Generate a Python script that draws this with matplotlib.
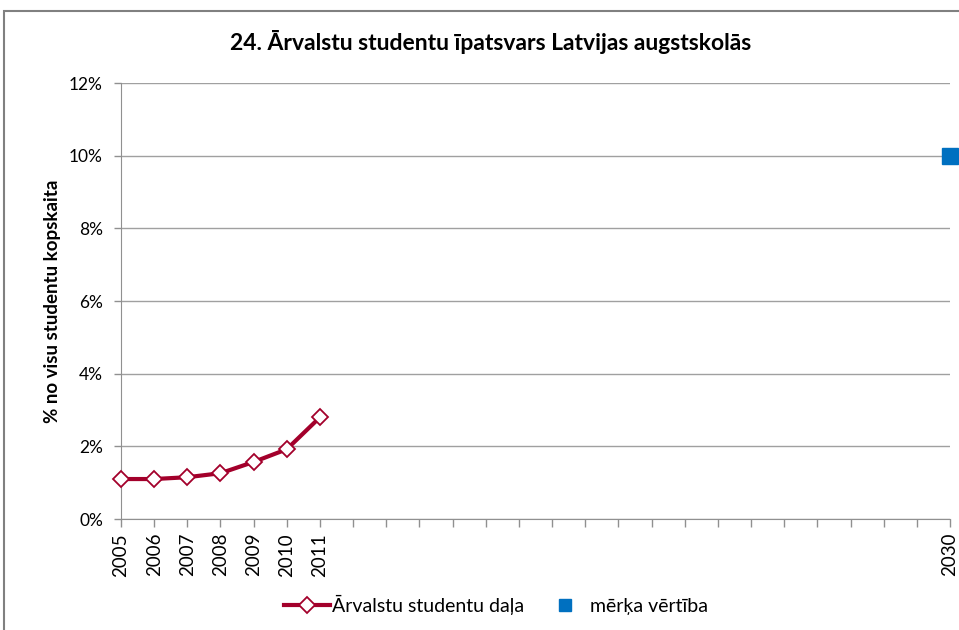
import matplotlib
matplotlib.use("Agg")
import matplotlib.pyplot as plt
from matplotlib.patches import Rectangle
from matplotlib.lines import Line2D

plt.rcParams['font.family'] = ['Lato', 'DejaVu Sans']

years = list(range(2005, 2031))
hist_years = [2005, 2006, 2007, 2008, 2009, 2010, 2011]
hist_values = [1.10, 1.10, 1.15, 1.26, 1.57, 1.92, 2.80]
target_years = [2030]
target_values = [10.0]
labeled_years = [2005, 2006, 2007, 2008, 2009, 2010, 2011, 2030]
yticks = [0, 2, 4, 6, 8, 10, 12]

title = "24. Ārvalstu studentu īpatsvars Latvijas augstskolās"
ylabel = "% no visu studentu kopskaita"
series1 = "Ārvalstu studentu daļa"
series2 = "mērķa vērtība"

fig = plt.figure(figsize=(9.59, 6.3), dpi=100)
fig.patch.set_facecolor('white')
fig.add_artist(Rectangle((4/959, -0.1), 1.2, 1 - 11/630 + 0.1, transform=fig.transFigure,
                         fill=False, edgecolor='#808080', linewidth=1.5))

ax = fig.add_axes([121/959, 1 - 519/630, (950 - 121)/959, (519 - 83)/630])
ax.set_xlim(2005, 2030)
ax.set_ylim(0, 12)

red = '#A3002B'
ax.plot(hist_years, hist_values, color=red, linewidth=3, marker='D', markersize=8.5,
        markerfacecolor='white', markeredgecolor=red, markeredgewidth=1.3, zorder=3,
        clip_on=False)
ax.plot(target_years, target_values, linestyle='none', marker='s', markersize=11,
        color='#0070C0', zorder=4, clip_on=False)

ax.set_yticks(yticks)
ax.set_yticklabels([f"{v}%" for v in yticks], fontsize=12.5)
ax.yaxis.grid(True, color='#A0A0A0', linewidth=1)
ax.set_axisbelow(True)

ax.set_xticks(years)
ax.set_xticklabels([str(y) if y in labeled_years else "" for y in years],
                   rotation=90, fontsize=13.5)
ax.tick_params(axis='x', direction='out', length=6, color='#909090', width=1, pad=4)
ax.tick_params(axis='y', direction='out', length=5, color='#909090', width=1, pad=8)

for s in ['top', 'right']:
    ax.spines[s].set_visible(False)
ax.spines['left'].set_color('#909090')
ax.spines['bottom'].set_color('#909090')

ax.set_ylabel(ylabel, fontsize=13.5, fontweight='bold', labelpad=6)
fig.text(491/959, 1 - 42/630, title, ha='center', va='center', fontsize=16.5,
         fontweight='bold')

h1 = Line2D([], [], color=red, linewidth=3, marker='D', markersize=8.5,
            markerfacecolor='white', markeredgecolor=red, markeredgewidth=1.3)
h2 = Line2D([], [], linestyle='none', marker='s', markersize=9, color='#0070C0')
fig.legend([h1, h2], [series1, series2], loc='center', bbox_to_anchor=(496/959, 1 - 605/630),
           ncol=2, frameon=False, fontsize=14, handlelength=2.4, columnspacing=0.9,
           handletextpad=0.1)

fig.savefig("out.png", dpi=100)
